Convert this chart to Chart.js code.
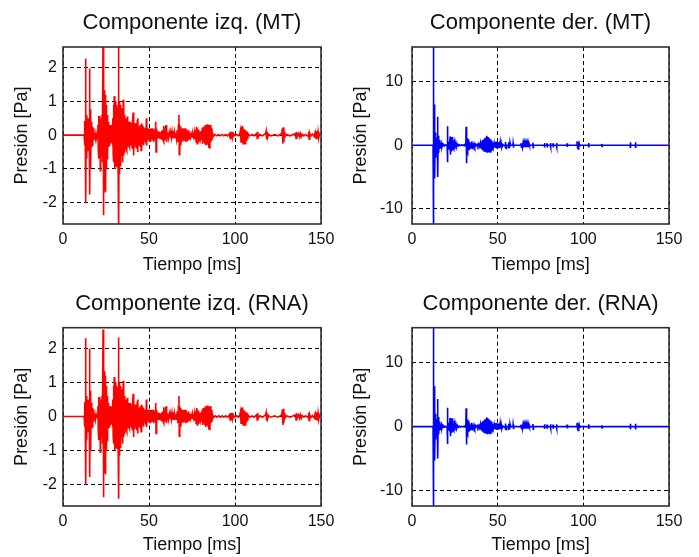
<!DOCTYPE html>
<html>
<head>
<meta charset="utf-8">
<script src="https://cdn.jsdelivr.net/npm/chart.js@4.4.1/dist/chart.umd.min.js"></script>
<style>
  body { margin: 0; background: #fff; }
  #wrap { position: relative; width: 699px; height: 557px; }
  canvas { position: absolute; }
</style>
</head>
<body>
<div id="wrap">
  <canvas id="leftMTChart" width="345" height="280" style="left:0;top:0"></canvas>
  <canvas id="rightMTChart" width="354" height="280" style="left:345px;top:0"></canvas>
  <canvas id="leftRNAChart" width="345" height="277" style="left:0;top:280px"></canvas>
  <canvas id="rightRNAChart" width="354" height="277" style="left:345px;top:280px"></canvas>
</div>
<script>
// [tiempo ms, presion Pa]
const leftMT = [
  [0,0],[12.3,0],
  [12.5,0.42],[12.7,-0.3],[12.9,0.35],[13.05,-0.45],[13.2,2.27],[13.35,-2.0],[13.5,0.6],[13.65,-0.7],[13.8,0.45],[13.95,-0.55],
  [14.1,0.5],[14.25,-0.4],[14.4,0.3],[14.6,-0.45],[14.8,0.35],[15.0,-0.3],[15.2,0.5],[15.45,1.97],[15.6,-1.76],[15.75,0.7],
  [15.9,-0.8],[16.1,0.76],[16.25,-1.0],[16.4,0.4],[16.6,-0.35],[16.8,0.3],[17.0,-0.3],[17.2,0.25],[17.4,-0.2],[17.6,0.2],
  [17.8,-0.15],[18.0,0.12],[18.3,-0.1],[18.6,0.08],[18.9,-0.07],[19.2,0.06],[19.6,-0.05],[20.0,0.05],
  [20.3,0.3],[20.5,-0.4],[20.7,0.57],[20.9,-0.7],[21.1,0.45],[21.3,-0.5],[21.5,0.57],[21.7,-1.05],[21.9,0.4],[22.1,-0.6],
  [22.3,0.5],[22.5,-0.5],[22.7,0.6],[22.9,-0.8],[23.1,0.7],[23.3,3.0],[23.45,-2.37],[23.6,0.9],[23.8,-1.2],[24.0,1.33],
  [24.15,-1.65],[24.3,1.1],[24.5,-1.4],[24.65,1.2],[24.8,-1.7],[25.0,0.9],[25.2,-1.0],[25.4,0.8],[25.6,-0.7],[25.8,0.6],
  [26.0,-0.5],[26.2,0.4],[26.4,-0.35],[26.6,0.3],[26.8,-0.3],[27.0,0.25],[27.2,-0.3],[27.4,0.3],[27.6,-0.25],[27.8,0.2],
  [28.0,-0.2],[28.2,0.25],[28.4,-0.2],[28.6,0.3],[28.8,-0.3],
  [29.0,0.5],[29.2,-0.6],[29.4,0.9],[29.6,-0.8],[29.8,1.16],[30.0,-1.0],[30.2,0.8],[30.4,-0.9],[30.6,1.0],[30.8,-0.7],
  [31.0,0.9],[31.2,-0.95],[31.4,0.7],[31.6,-0.8],[31.8,0.85],[32.0,-0.6],[32.2,0.7],[32.35,3.0],[32.5,-3.0],[32.65,0.8],
  [32.8,-1.15],[33.0,1.0],[33.2,-0.9],[33.4,0.9],[33.6,-0.7],[33.8,0.8],[34.0,-0.6],[34.2,0.6],[34.4,-0.5],[34.6,0.7],
  [34.8,-0.8],[35.0,1.05],[35.2,-0.6],[35.4,0.5],[35.6,-0.5],[35.8,0.6],[36.0,-0.45],[36.2,0.45],[36.4,-0.4],[36.6,0.5],
  [36.8,-0.4],[37.0,0.35],[37.2,-0.45],[37.4,0.55],[37.6,-0.35],[37.8,0.4],[38.0,-0.3],[38.2,0.35],[38.4,-0.3],[38.6,0.3],
  [38.8,-0.35],[39.0,0.4],[39.2,-0.3],[39.4,0.3],[39.6,-0.25],[39.8,0.3],[40.0,-0.3],[40.2,0.35],[40.4,-0.4],[40.6,0.45],
  [40.8,0.67],[41.0,-0.6],[41.2,0.4],[41.4,-0.35],[41.6,0.3],[41.8,-0.3],[42.0,0.35],[42.2,-0.3],[42.4,0.3],[42.6,-0.25],
  [42.8,0.3],[43.0,-0.4],[43.2,0.45],[43.4,-0.5],[43.6,0.5],[43.8,-0.3],[44.0,0.25],[44.2,-0.2],[44.4,0.25],[44.6,-0.3],
  [44.8,0.3],[45.0,-0.35],[45.2,0.3],[45.4,-0.45],[45.6,0.35],[45.8,-0.3],[46.0,0.3],[46.2,-0.25],[46.4,0.2],[46.6,-0.2],
  [46.8,0.25],[47.0,-0.3],[47.2,0.2],[47.4,-0.15],[47.6,0.15],[47.8,-0.15],[48.0,0.15],[48.2,-0.2],[48.5,0.5],[48.7,-0.3],
  [48.9,0.2],[49.1,-0.15],[49.4,0.15],[49.7,-0.15],[50.0,0.2],[50.3,-0.2],[50.6,0.15],[50.9,-0.2],[51.2,0.2],[51.5,-0.15],
  [51.8,0.15],[52.1,-0.15],[52.4,0.2],[52.7,-0.2],[53.0,0.15],[53.3,-0.15],[53.6,0.1],[53.9,0.4],[54.1,-0.5],[54.3,0.2],
  [54.6,-0.15],[54.9,0.12],[55.2,-0.1],[55.5,0.1],[55.8,-0.1],[56.1,0.1],[56.4,-0.08],[56.7,0.08],[57.0,-0.1],[57.3,0.12],
  [57.6,-0.12],[57.9,0.15],[58.2,-0.15],[58.5,0.27],[58.7,-0.2],[59.0,0.15],[59.3,-0.15],[59.6,0.2],[59.9,0.3],[60.1,-0.2],
  [60.4,0.12],[60.7,-0.1],[61.0,0.08],[61.4,-0.08],[61.8,0.07],[62.2,-0.06],[62.6,0.08],[63.0,-0.08],[63.4,0.1],[63.8,-0.1],
  [64.2,0.12],[64.5,-0.1],[64.8,0.08],[65.2,-0.07],[65.6,0.07],[66.0,-0.1],[66.4,0.15],[66.8,-0.2],[67.1,0.3],[67.4,0.6],
  [67.6,-0.58],[67.8,0.3],[68.0,-0.3],[68.2,0.25],[68.5,-0.3],[68.8,0.2],[69.1,-0.2],[69.4,0.18],[69.7,-0.15],[70.0,0.2],
  [70.3,-0.18],[70.6,0.15],[70.9,-0.15],[71.2,0.2],[71.5,-0.2],[71.8,0.15],[72.1,-0.15],[72.4,0.12],[72.7,-0.12],[73.0,0.15],
  [73.3,-0.1],[73.7,0.08],[74.1,-0.06],[74.5,0.05],[75.0,-0.05],[75.5,0.05],[76.0,-0.06],
  [76.5,0.1],[76.8,-0.1],[77.1,0.15],[77.4,-0.2],[77.7,0.25],[78.0,-0.25],[78.3,0.2],[78.6,-0.2],[78.9,0.15],[79.2,-0.15],
  [79.5,0.1],[79.9,-0.08],[80.3,0.12],[80.6,-0.15],[80.9,0.2],[81.2,-0.25],[81.5,0.25],[81.8,-0.2],[82.1,0.2],[82.4,-0.25],
  [82.7,0.3],[83.0,-0.3],[83.3,0.25],[83.6,-0.3],[83.9,0.32],[84.2,-0.25],[84.5,0.3],[84.8,-0.38],[85.1,0.25],[85.4,-0.4],
  [85.7,0.3],[86.0,-0.2],[86.3,0.2],[86.6,-0.15],[87.0,0.05],[87.5,-0.03],[88.5,0.02],[89.5,-0.02],[90.5,0.02],[91.5,-0.02],
  [92.5,0.02],[93.5,-0.02],[94.5,0.02],[95.5,-0.02],[96.5,0.03],
  [97.0,-0.05],[97.3,0.1],[97.6,-0.12],[97.9,0.08],[98.2,-0.1],[98.5,0.1],[98.8,-0.05],[99.2,0.03],[100,-0.02],[101,0.02],
  [102,-0.02],[102.8,0.05],[103.2,0.15],[103.5,-0.2],[103.8,0.25],[104.1,-0.2],[104.4,0.27],[104.7,-0.25],[105.0,0.2],[105.3,-0.2],
  [105.6,0.15],[105.9,-0.25],[106.2,0.15],[106.5,-0.15],[106.8,0.1],[107.1,-0.1],[107.5,0.05],[108.5,-0.02],[110,0.02],[111,-0.02],
  [112.6,0.05],[112.9,-0.1],[113.2,0.1],[113.5,-0.05],[114.5,0.02],[116,-0.02],[117.8,0.05],[118.1,0.12],[118.4,-0.12],[118.7,0.08],
  [119.0,-0.06],[119.5,0.02],[121,-0.02],[123,0.02],[125,-0.02],[127.2,0.05],[127.5,0.2],[127.8,-0.25],[128.1,0.23],[128.4,-0.2],
  [128.7,0.1],[129.0,-0.05],[130,0.02],[132,-0.02],[135.2,0.05],[135.5,-0.1],[135.8,0.1],[136.1,-0.05],[137,0.05],[137.5,-0.05],
  [138,0.05],[138.5,-0.05],[139,0.03],[140,-0.02],[141,0.02],[142.5,-0.03],[142.8,0.1],[143.1,-0.12],[143.4,0.06],[144,-0.03],
  [145,0.03],[146,-0.04],[146.6,0.08],[147,-0.1],[147.5,0.12],[147.9,-0.12],[148.3,0.1],[148.7,-0.08],[149.2,0.03],[150,0]
];

const rightMT = [
  [0,0],[12.3,0],[12.4,16],[12.5,-13.5],[12.65,1.5],[12.8,-1.2],[12.95,2.0],[13.1,-1.5],[13.2,6.4],[13.35,-5.25],
  [13.5,2.0],[13.65,-2.0],[13.8,1.5],[13.95,-1.8],[14.1,1.2],[14.25,-1.0],[14.4,1.0],[14.55,-0.9],[14.7,0.8],[14.85,-1.2],
  [15.0,4.46],[15.15,-5.0],[15.3,1.5],[15.45,-1.2],[15.6,1.0],[15.75,-0.8],[15.9,0.8],[16.1,-0.6],[16.3,0.5],[16.5,-0.4],
  [16.7,0.35],[16.9,-0.3],[17.2,0.25],[17.5,-0.2],[17.8,0.15],[18.2,-0.1],[18.6,0.08],[19.1,-0.06],[19.6,0.05],[20.2,-0.05],
  [20.5,0],[20.6,3.0],[20.75,-2.7],[21.0,0.5],[21.2,-0.4],[21.4,0.6],[21.6,-0.5],[21.8,0.4],[22.0,-0.6],[22.2,1.35],[22.4,-1.5],
  [22.6,0.6],[22.8,-0.5],[23.0,0.8],[23.2,-1.0],[23.4,1.3],[23.6,-0.8],[23.8,0.5],[24.0,-0.4],[24.2,0.4],[24.5,-0.6],
  [24.8,0.9],[25.0,-0.6],[25.2,0.3],[25.5,-0.25],[25.8,0.2],[26.1,-0.2],[26.5,0.15],[27,-0.1],[27.5,0.08],[28.2,-0.06],
  [29,0.05],[29.8,-0.05],[30.5,0.08],[31.0,-0.1],[31.3,0.2],[31.5,0],[31.6,2.9],[31.75,-2.85],[32.0,1.2],[32.2,-1.0],[32.4,1.1],
  [32.6,-1.2],[32.8,0.9],[33.0,-0.8],[33.2,0.7],[33.4,-0.6],[33.7,0.5],[34.0,-0.4],[34.3,0.3],[34.6,-0.3],[34.9,0.6],
  [35.2,-0.5],[35.5,0.3],[35.8,-0.2],[36.2,0.25],[36.6,-0.2],[37.0,0.15],[37.5,-0.1],[38,0.15],[38.5,-0.15],[39.0,0.2],[39.5,-0.2],
  [40.0,0.4],[40.3,-0.4],[40.6,0.6],[40.9,-0.6],[41.2,0.8],[41.5,-0.7],[41.8,0.9],[42.1,-0.9],[42.4,1.1],[42.7,-0.9],
  [43.0,1.2],[43.3,-1.0],[43.6,1.47],[43.9,-1.05],[44.2,1.3],[44.5,-1.0],[44.8,1.2],[45.1,-0.9],[45.4,1.0],[45.7,-1.05],
  [46.0,0.9],[46.3,-0.8],[46.6,0.7],[46.9,-0.6],[47.2,0.4],[47.5,-0.3],
  [47.9,0.3],[48.2,-0.35],[48.5,0.5],[48.8,-0.45],[49.1,0.57],[49.4,-0.5],[49.7,0.45],[50.0,-0.5],[50.3,0.4],[50.6,-0.4],
  [50.9,0.5],[51.2,-0.45],[51.5,0.4],[51.8,-0.35],[52.1,0.3],[52.5,-0.3],[53.0,0.1],[53.5,-0.05],[54.3,0],[54.4,0.5],[54.6,-0.45],
  [54.8,0.4],[55.0,-0.5],[55.2,0],[56.3,0],[56.4,0.45],[56.6,-0.5],[56.8,0.4],[57.0,-0.4],[57.2,0.35],[57.4,0],[58.9,0],[59.0,0.3],
  [59.2,-0.4],[59.4,0],[63.5,0],
  [63.6,0.3],[63.9,-0.3],[64.2,0.3],[64.5,-0.3],[64.8,0.3],[65.1,-0.3],[65.4,0.3],[65.7,-0.3],[66.0,0.3],[66.3,-0.3],
  [66.6,0.3],[66.9,-0.3],[67.2,0.3],[67.5,-0.3],[67.8,0.28],[68.1,-0.3],[68.4,0.2],[68.6,0],[70.5,0],[70.6,0.4],[70.75,-0.4],
  [70.9,0],[77.2,0],[77.3,0.35],[77.45,-0.35],[77.6,0],[78.7,0],[78.8,0.3],[78.95,-0.35],[79.1,0],[80.7,0],[80.8,0.35],
  [80.95,-0.3],[81.1,0],[82.2,0],[82.3,0.3],[82.45,-0.35],[82.6,0],[84.2,0],[84.3,0.35],[84.45,-0.3],[84.6,0],[90.4,0],
  [90.5,0.3],[90.65,-0.3],[90.8,0],[96.3,0],[96.4,0.6],[96.6,-0.5],[96.8,0.4],[97.0,-0.6],[97.2,0.3],[97.4,-0.3],
  [97.6,0.2],[97.8,-0.2],[98.0,0],[103.0,0],[103.1,0.35],[103.25,-0.35],[103.4,0],[110.7,0],[110.8,0.2],[110.95,-0.2],
  [111.1,0],[127.3,0],[127.4,0.45],[127.55,-0.45],[127.7,0],[130.3,0],[130.4,0.45],[130.55,-0.45],[130.7,0],[150,0]
];

const leftRNA = [
  [0,0],[12.3,0],
  [12.5,0.42],[12.7,-0.3],[12.9,0.35],[13.05,-0.45],[13.2,2.3],[13.35,-2.0],[13.5,0.6],[13.65,-0.7],[13.8,0.45],[13.95,-0.55],
  [14.1,0.5],[14.25,-0.4],[14.4,0.3],[14.6,-0.45],[14.8,0.35],[15.0,-0.3],[15.2,0.5],[15.45,2.0],[15.6,-1.78],[15.75,0.7],
  [15.9,-0.8],[16.1,0.76],[16.25,-1.0],[16.4,0.4],[16.6,-0.35],[16.8,0.3],[17.0,-0.3],[17.2,0.25],[17.4,-0.2],[17.6,0.2],
  [17.8,-0.15],[18.0,0.12],[18.3,-0.1],[18.6,0.08],[18.9,-0.07],[19.2,0.06],[19.6,-0.05],[20.0,0.05],
  [20.3,0.3],[20.5,-0.4],[20.7,0.57],[20.9,-0.7],[21.1,0.45],[21.3,-0.5],[21.5,0.57],[21.7,-1.05],[21.9,0.4],[22.1,-0.6],
  [22.3,0.5],[22.5,-0.5],[22.7,0.6],[22.9,-0.8],[23.1,0.7],[23.3,2.56],[23.45,-2.37],[23.6,0.9],[23.8,-1.2],[24.0,1.33],
  [24.15,-1.65],[24.3,1.1],[24.5,-1.4],[24.65,1.2],[24.8,-1.7],[25.0,0.9],[25.2,-1.0],[25.4,0.8],[25.6,-0.7],[25.8,0.6],
  [26.0,-0.5],[26.2,0.4],[26.4,-0.35],[26.6,0.3],[26.8,-0.3],[27.0,0.25],[27.2,-0.3],[27.4,0.3],[27.6,-0.25],[27.8,0.2],
  [28.0,-0.2],[28.2,0.25],[28.4,-0.2],[28.6,0.3],[28.8,-0.3],
  [29.0,0.5],[29.2,-0.6],[29.4,0.9],[29.6,-0.8],[29.8,1.16],[30.0,-1.0],[30.2,0.8],[30.4,-0.9],[30.6,1.0],[30.8,-0.7],
  [31.0,0.9],[31.2,-0.95],[31.4,0.7],[31.6,-0.8],[31.8,0.85],[32.0,-0.6],[32.2,0.7],[32.35,2.32],[32.5,-2.42],[32.65,0.8],
  [32.8,-1.15],[33.0,1.0],[33.2,-0.9],[33.4,0.9],[33.6,-0.7],[33.8,0.8],[34.0,-0.6],[34.2,0.6],[34.4,-0.5],[34.6,0.7],
  [34.8,-0.8],[35.0,1.05],[35.2,-0.6],[35.4,0.5],[35.6,-0.5],[35.8,0.6],[36.0,-0.45],[36.2,0.45],[36.4,-0.4],[36.6,0.5],
  [36.8,-0.4],[37.0,0.35],[37.2,-0.45],[37.4,0.55],[37.6,-0.35],[37.8,0.4],[38.0,-0.3],[38.2,0.35],[38.4,-0.3],[38.6,0.3],
  [38.8,-0.35],[39.0,0.4],[39.2,-0.3],[39.4,0.3],[39.6,-0.25],[39.8,0.3],[40.0,-0.3],[40.2,0.35],[40.4,-0.4],[40.6,0.45],
  [40.8,0.67],[41.0,-0.6],[41.2,0.4],[41.4,-0.35],[41.6,0.3],[41.8,-0.3],[42.0,0.35],[42.2,-0.3],[42.4,0.3],[42.6,-0.25],
  [42.8,0.3],[43.0,-0.4],[43.2,0.45],[43.4,-0.5],[43.6,0.5],[43.8,-0.3],[44.0,0.25],[44.2,-0.2],[44.4,0.25],[44.6,-0.3],
  [44.8,0.3],[45.0,-0.35],[45.2,0.3],[45.4,-0.45],[45.6,0.35],[45.8,-0.3],[46.0,0.3],[46.2,-0.25],[46.4,0.2],[46.6,-0.2],
  [46.8,0.25],[47.0,-0.3],[47.2,0.2],[47.4,-0.15],[47.6,0.15],[47.8,-0.15],[48.0,0.15],[48.2,-0.2],[48.5,0.5],[48.7,-0.3],
  [48.9,0.2],[49.1,-0.15],[49.4,0.15],[49.7,-0.15],[50.0,0.2],[50.3,-0.2],[50.6,0.15],[50.9,-0.2],[51.2,0.2],[51.5,-0.15],
  [51.8,0.15],[52.1,-0.15],[52.4,0.2],[52.7,-0.2],[53.0,0.15],[53.3,-0.15],[53.6,0.1],[53.9,0.4],[54.1,-0.5],[54.3,0.2],
  [54.6,-0.15],[54.9,0.12],[55.2,-0.1],[55.5,0.1],[55.8,-0.1],[56.1,0.1],[56.4,-0.08],[56.7,0.08],[57.0,-0.1],[57.3,0.12],
  [57.6,-0.12],[57.9,0.15],[58.2,-0.15],[58.5,0.27],[58.7,-0.2],[59.0,0.15],[59.3,-0.15],[59.6,0.2],[59.9,0.3],[60.1,-0.2],
  [60.4,0.12],[60.7,-0.1],[61.0,0.08],[61.4,-0.08],[61.8,0.07],[62.2,-0.06],[62.6,0.08],[63.0,-0.08],[63.4,0.1],[63.8,-0.1],
  [64.2,0.12],[64.5,-0.1],[64.8,0.08],[65.2,-0.07],[65.6,0.07],[66.0,-0.1],[66.4,0.15],[66.8,-0.2],[67.1,0.3],[67.4,0.6],
  [67.6,-0.58],[67.8,0.3],[68.0,-0.3],[68.2,0.25],[68.5,-0.3],[68.8,0.2],[69.1,-0.2],[69.4,0.18],[69.7,-0.15],[70.0,0.2],
  [70.3,-0.18],[70.6,0.15],[70.9,-0.15],[71.2,0.2],[71.5,-0.2],[71.8,0.15],[72.1,-0.15],[72.4,0.12],[72.7,-0.12],[73.0,0.15],
  [73.3,-0.1],[73.7,0.08],[74.1,-0.06],[74.5,0.05],[75.0,-0.05],[75.5,0.05],[76.0,-0.06],
  [76.5,0.1],[76.8,-0.1],[77.1,0.15],[77.4,-0.2],[77.7,0.25],[78.0,-0.25],[78.3,0.2],[78.6,-0.2],[78.9,0.15],[79.2,-0.15],
  [79.5,0.1],[79.9,-0.08],[80.3,0.12],[80.6,-0.15],[80.9,0.2],[81.2,-0.25],[81.5,0.25],[81.8,-0.2],[82.1,0.2],[82.4,-0.25],
  [82.7,0.3],[83.0,-0.3],[83.3,0.25],[83.6,-0.3],[83.9,0.32],[84.2,-0.25],[84.5,0.3],[84.8,-0.38],[85.1,0.25],[85.4,-0.4],
  [85.7,0.3],[86.0,-0.2],[86.3,0.2],[86.6,-0.15],[87.0,0.05],[87.5,-0.03],[88.5,0.02],[89.5,-0.02],[90.5,0.02],[91.5,-0.02],
  [92.5,0.02],[93.5,-0.02],[94.5,0.02],[95.5,-0.02],[96.5,0.03],
  [97.0,-0.05],[97.3,0.1],[97.6,-0.12],[97.9,0.08],[98.2,-0.1],[98.5,0.1],[98.8,-0.05],[99.2,0.03],[100,-0.02],[101,0.02],
  [102,-0.02],[102.8,0.05],[103.2,0.15],[103.5,-0.2],[103.8,0.25],[104.1,-0.2],[104.4,0.27],[104.7,-0.25],[105.0,0.2],[105.3,-0.2],
  [105.6,0.15],[105.9,-0.25],[106.2,0.15],[106.5,-0.15],[106.8,0.1],[107.1,-0.1],[107.5,0.05],[108.5,-0.02],[110,0.02],[111,-0.02],
  [112.6,0.05],[112.9,-0.1],[113.2,0.1],[113.5,-0.05],[114.5,0.02],[116,-0.02],[117.8,0.05],[118.1,0.12],[118.4,-0.12],[118.7,0.08],
  [119.0,-0.06],[119.5,0.02],[121,-0.02],[123,0.02],[125,-0.02],[127.2,0.05],[127.5,0.2],[127.8,-0.25],[128.1,0.23],[128.4,-0.2],
  [128.7,0.1],[129.0,-0.05],[130,0.02],[132,-0.02],[135.2,0.05],[135.5,-0.1],[135.8,0.1],[136.1,-0.05],[137,0.05],[137.5,-0.05],
  [138,0.05],[138.5,-0.05],[139,0.03],[140,-0.02],[141,0.02],[142.5,-0.03],[142.8,0.1],[143.1,-0.12],[143.4,0.06],[144,-0.03],
  [145,0.03],[146,-0.04],[146.6,0.08],[147,-0.1],[147.5,0.12],[147.9,-0.12],[148.3,0.1],[148.7,-0.08],[149.2,0.03],[150,0]
];

const rightRNA = [
  [0,0],[12.3,0],[12.4,16],[12.5,-13.5],[12.65,1.5],[12.8,-1.2],[12.95,2.0],[13.1,-1.5],[13.2,6.3],[13.35,-5.3],
  [13.5,2.0],[13.65,-2.0],[13.8,1.5],[13.95,-1.8],[14.1,1.2],[14.25,-1.0],[14.4,1.0],[14.55,-0.9],[14.7,0.8],[14.85,-1.2],
  [15.0,4.3],[15.15,-5.0],[15.3,1.5],[15.45,-1.2],[15.6,1.0],[15.75,-0.8],[15.9,0.8],[16.1,-0.6],[16.3,0.5],[16.5,-0.4],
  [16.7,0.35],[16.9,-0.3],[17.2,0.25],[17.5,-0.2],[17.8,0.15],[18.2,-0.1],[18.6,0.08],[19.1,-0.06],[19.6,0.05],[20.2,-0.05],
  [20.5,0],[20.6,2.95],[20.75,-2.7],[21.0,0.5],[21.2,-0.4],[21.4,0.6],[21.6,-0.5],[21.8,0.4],[22.0,-0.6],[22.2,1.35],[22.4,-1.5],
  [22.6,0.6],[22.8,-0.5],[23.0,0.8],[23.2,-1.0],[23.4,1.3],[23.6,-0.8],[23.8,0.5],[24.0,-0.4],[24.2,0.4],[24.5,-0.6],
  [24.8,0.9],[25.0,-0.6],[25.2,0.3],[25.5,-0.25],[25.8,0.2],[26.1,-0.2],[26.5,0.15],[27,-0.1],[27.5,0.08],[28.2,-0.06],
  [29,0.05],[29.8,-0.05],[30.5,0.08],[31.0,-0.1],[31.3,0.2],[31.5,0],[31.6,2.85],[31.75,-2.8],[32.0,1.2],[32.2,-1.0],[32.4,1.1],
  [32.6,-1.2],[32.8,0.9],[33.0,-0.8],[33.2,0.7],[33.4,-0.6],[33.7,0.5],[34.0,-0.4],[34.3,0.3],[34.6,-0.3],[34.9,0.6],
  [35.2,-0.5],[35.5,0.3],[35.8,-0.2],[36.2,0.25],[36.6,-0.2],[37.0,0.15],[37.5,-0.1],[38,0.15],[38.5,-0.15],[39.0,0.2],[39.5,-0.2],
  [40.0,0.4],[40.3,-0.4],[40.6,0.6],[40.9,-0.6],[41.2,0.8],[41.5,-0.7],[41.8,0.9],[42.1,-0.9],[42.4,1.1],[42.7,-0.9],
  [43.0,1.2],[43.3,-1.0],[43.6,1.45],[43.9,-1.05],[44.2,1.3],[44.5,-1.0],[44.8,1.2],[45.1,-0.9],[45.4,1.0],[45.7,-1.05],
  [46.0,0.9],[46.3,-0.8],[46.6,0.7],[46.9,-0.6],[47.2,0.4],[47.5,-0.3],
  [47.9,0.3],[48.2,-0.35],[48.5,0.5],[48.8,-0.45],[49.1,0.57],[49.4,-0.5],[49.7,0.45],[50.0,-0.5],[50.3,0.4],[50.6,-0.4],
  [50.9,0.5],[51.2,-0.45],[51.5,0.4],[51.8,-0.35],[52.1,0.3],[52.5,-0.3],[53.0,0.1],[53.5,-0.05],[54.3,0],[54.4,0.5],[54.6,-0.45],
  [54.8,0.4],[55.0,-0.5],[55.2,0],[56.3,0],[56.4,0.45],[56.6,-0.5],[56.8,0.4],[57.0,-0.4],[57.2,0.35],[57.4,0],[58.9,0],[59.0,0.3],
  [59.2,-0.4],[59.4,0],[63.5,0],
  [63.6,0.3],[63.9,-0.3],[64.2,0.3],[64.5,-0.3],[64.8,0.3],[65.1,-0.3],[65.4,0.3],[65.7,-0.3],[66.0,0.3],[66.3,-0.3],
  [66.6,0.3],[66.9,-0.3],[67.2,0.3],[67.5,-0.3],[67.8,0.28],[68.1,-0.3],[68.4,0.2],[68.6,0],[70.5,0],[70.6,0.4],[70.75,-0.4],
  [70.9,0],[77.2,0],[77.3,0.35],[77.45,-0.35],[77.6,0],[78.7,0],[78.8,0.3],[78.95,-0.35],[79.1,0],[80.7,0],[80.8,0.35],
  [80.95,-0.3],[81.1,0],[82.2,0],[82.3,0.3],[82.45,-0.35],[82.6,0],[84.2,0],[84.3,0.35],[84.45,-0.3],[84.6,0],[90.4,0],
  [90.5,0.3],[90.65,-0.3],[90.8,0],[96.3,0],[96.4,0.6],[96.6,-0.5],[96.8,0.4],[97.0,-0.6],[97.2,0.3],[97.4,-0.3],
  [97.6,0.2],[97.8,-0.2],[98.0,0],[103.0,0],[103.1,0.35],[103.25,-0.35],[103.4,0],[110.7,0],[110.8,0.2],[110.95,-0.2],
  [111.1,0],[127.3,0],[127.4,0.45],[127.55,-0.45],[127.7,0],[130.3,0],[130.4,0.45],[130.55,-0.45],[130.7,0],[150,0]
];

const xTicks = [0, 50, 100, 150];
const leftYLimits = [-2.63, 2.61];
const rightYLimits = [-12.4, 15.45];

Chart.defaults.font.family = '"Liberation Sans", Arial, sans-serif';
Chart.defaults.color = '#000';

// draws the closed axes box round the plot area
const boxPlugin = {
  id: 'axesBox',
  afterDatasetsDraw(chart) {
    const a = chart.chartArea;
    const ctx = chart.ctx;
    ctx.save();
    ctx.strokeStyle = '#303030';
    ctx.lineWidth = 1.6;
    ctx.strokeRect(a.left, a.top, a.right - a.left, a.bottom - a.top);
    ctx.restore();
  }
};

function makePanel(id, series, color, title, ylim, ystep, lay) {
  return new Chart(document.getElementById(id), {
    type: 'line',
    data: {
      datasets: [{
        data: series.map(p => ({x: p[0], y: p[1]})),
        borderColor: color,
        borderWidth: 1.6,
        pointRadius: 0,
        tension: 0,
        clip: 0
      }]
    },
    options: {
      responsive: false,
      animation: false,
      events: [],
      layout: {padding: {left: 0, right: lay.padRight, top: 0, bottom: 0}},
      plugins: {
        legend: {display: false},
        tooltip: {enabled: false},
        title: {
          display: true,
          text: title,
          fullSize: false,
          color: '#111',
          font: {size: 22, weight: 'normal'},
          padding: {top: lay.titleTop, bottom: lay.titleBottom}
        }
      },
      scales: {
        x: {
          type: 'linear',
          min: 0, max: 150,
          afterBuildTicks: s => { s.ticks = xTicks.map(v => ({value: v})); },
          afterFit: s => { s.height = lay.xHeight; },
          grid: {color: '#000', lineWidth: 1, drawTicks: false},
          border: {display: false, dash: [4, 3]},
          ticks: {padding: 6, maxRotation: 0, autoSkip: false, font: {size: 16}, color: '#111'},
          title: {display: true, text: 'Tiempo [ms]', font: {size: 18}, color: '#111',
                  padding: {top: 0, bottom: lay.xTitleBottom}}
        },
        y: {
          type: 'linear',
          min: ylim[0], max: ylim[1],
          afterFit: s => { s.width = lay.yWidth; },
          grid: {color: '#000', lineWidth: 1, drawTicks: false},
          border: {display: false, dash: [4, 3]},
          ticks: {stepSize: ystep, includeBounds: false, padding: lay.yTickPad, font: {size: 16}, color: '#111'},
          title: {display: true, text: 'Presión [Pa]', font: {size: 18}, color: '#111',
                  padding: {top: lay.yTitleTop, bottom: 0}}
        }
      }
    },
    plugins: [boxPlugin]
  });
}

const topLeft = {padRight: 24, yWidth: 63, xHeight: 56, titleTop: 10, titleBottom: 10.6, xTitleBottom: 4, yTitleTop: 11, yTickPad: 6};
const topRight = {padRight: 30, yWidth: 67, xHeight: 56, titleTop: 10, titleBottom: 10.6, xTitleBottom: 4, yTitleTop: 5, yTickPad: 9};
const botLeft = {padRight: 24, yWidth: 63, xHeight: 51, titleTop: 11, titleBottom: 10.3, xTitleBottom: 1, yTitleTop: 11, yTickPad: 6};
const botRight = {padRight: 30, yWidth: 67, xHeight: 51, titleTop: 11, titleBottom: 10.3, xTitleBottom: 1, yTitleTop: 5, yTickPad: 9};

makePanel('leftMTChart', leftMT, '#ff0000', 'Componente izq. (MT)', leftYLimits, 1, topLeft);
makePanel('rightMTChart', rightMT, '#0000ff', 'Componente der. (MT)', rightYLimits, 10, topRight);
makePanel('leftRNAChart', leftRNA, '#ff0000', 'Componente izq. (RNA)', leftYLimits, 1, botLeft);
makePanel('rightRNAChart', rightRNA, '#0000ff', 'Componente der. (RNA)', rightYLimits, 10, botRight);
</script>
</body>
</html>
